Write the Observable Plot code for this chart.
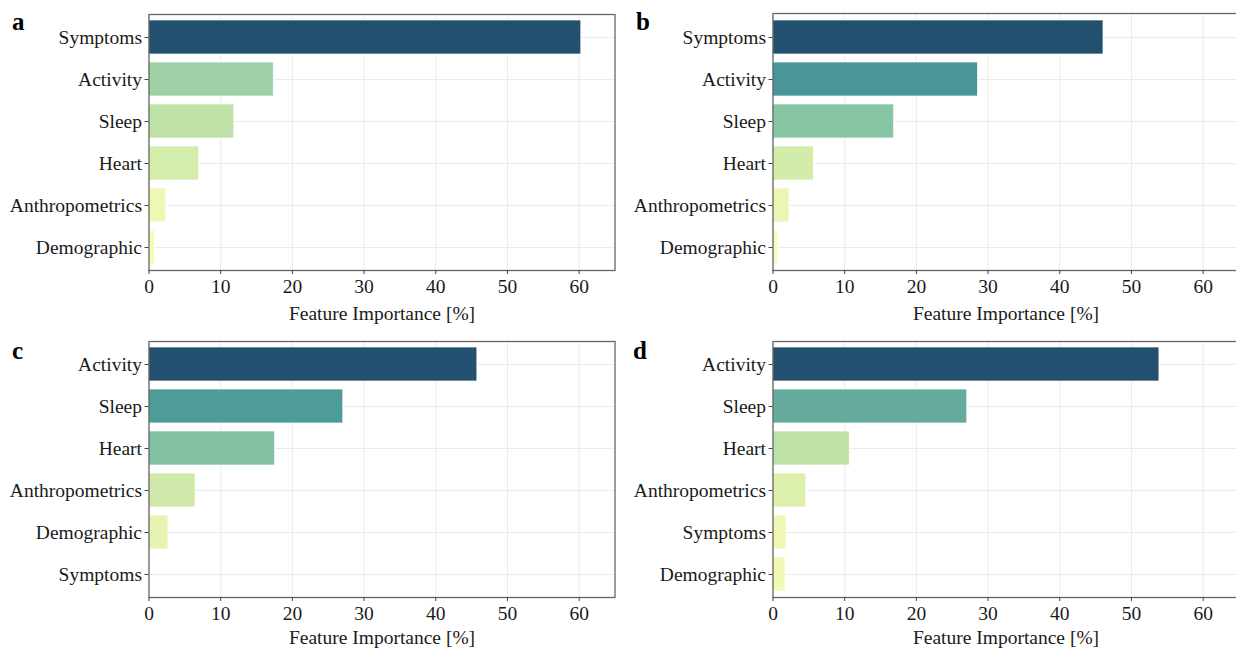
<!DOCTYPE html>
<html><head><meta charset="utf-8">
<script src="https://cdn.jsdelivr.net/npm/d3@7"></script>
<script src="https://cdn.jsdelivr.net/npm/@observablehq/plot@0.6"></script>
<style>
html,body{margin:0;padding:0;background:#fff;}
#root{position:relative;width:1236px;height:649px;overflow:hidden;background:#fff;}
.panel{position:absolute;width:618px;}
.panel svg{max-width:none !important;}
.letter{position:absolute;font-family:"Liberation Serif",serif;font-weight:bold;font-size:25px;line-height:25px;color:#000;}
</style></head><body>
<div id="root"></div>
<script>
// ---- data ----
const panelLetters = ["a", "b", "c", "d"];
const catsA = ["Symptoms", "Activity", "Sleep", "Heart", "Anthropometrics", "Demographic"];
const valsA = [60.3, 17.4, 11.9, 7.0, 2.4, 0.8];
const catsB = ["Symptoms", "Activity", "Sleep", "Heart", "Anthropometrics", "Demographic"];
const valsB = [46.1, 28.6, 16.9, 5.7, 2.3, 0.7];
const catsC = ["Activity", "Sleep", "Heart", "Anthropometrics", "Demographic", "Symptoms"];
const valsC = [45.8, 27.1, 17.6, 6.5, 2.7, 0];
const catsD = ["Activity", "Sleep", "Heart", "Anthropometrics", "Symptoms", "Demographic"];
const valsD = [53.9, 27.1, 10.7, 4.65, 1.9, 1.75];
const xTicks = [0, 10, 20, 30, 40, 50, 60];
const xLabel = "Feature Importance [%]";

// colour ramp (fraction of panel maximum -> colour)
const rampFrac = [0, 0.03, 0.06, 0.12, 0.2, 0.29, 0.37, 0.5, 0.6, 1];
const rampCol = ["#fbfdba", "#f3f9b5", "#e5f4b0", "#d4ecaa", "#bee2a8", "#9dd1a5", "#86c4a3", "#66ad9f", "#4b9a9a", "#23506f"];

function panel(cats, vals, opts) {
  const data = cats.map((c, i) => ({cat: c, v: vals[i]}));
  const max = d3.max(vals);
  return Plot.plot({
    width: 618,
    height: opts.height,
    marginLeft: 148.5,
    marginRight: 3.5,
    marginTop: opts.marginTop,
    marginBottom: opts.marginBottom,
    style: {fontFamily: "'Liberation Serif', serif", fontSize: "19.5px", color: "#1a1a1a", background: "white", overflow: "visible"},
    x: {domain: [0, 65], axis: null},
    y: {domain: cats, paddingInner: 0.2, paddingOuter: 0.1, axis: null},
    color: {type: "linear", domain: rampFrac.map(f => f * max), range: rampCol, interpolate: "rgb"},
    marks: [
      Plot.gridX(xTicks, {stroke: "#ebebeb", strokeOpacity: 1, strokeWidth: 1}),
      Plot.gridY(cats, {stroke: "#ebebeb", strokeOpacity: 1, strokeWidth: 1}),
      Plot.barX(data, {y: "cat", x: "v", fill: "v", stroke: "white", strokeWidth: 0.7}),
      Plot.frame({stroke: "#666", strokeWidth: 1.3}),
      Plot.axisX({ticks: xTicks, tickSize: 4, tickPadding: 5, stroke: "#444", fill: "#1a1a1a", label: null}),
      Plot.axisY({tickSize: 4, tickPadding: 3, stroke: "#444", fill: "#1a1a1a", label: null}),
      Plot.text([xLabel], {frameAnchor: "bottom", dy: opts.titleDy, lineAnchor: "middle", fill: "#1a1a1a"})
    ]
  });
}

const root = document.getElementById("root");
const layout = [
  {cats: catsA, vals: valsA, left: 0, top: 0, height: 325, marginTop: 14, marginBottom: 55, titleDy: 43, lx: 12, ly: 9},
  {cats: catsB, vals: valsB, left: 624, top: 0, height: 325, marginTop: 13, marginBottom: 55, titleDy: 43, lx: 636, ly: 9},
  {cats: catsC, vals: valsC, left: 0, top: 326, height: 323, marginTop: 15, marginBottom: 52, titleDy: 40, lx: 12, ly: 338},
  {cats: catsD, vals: valsD, left: 624, top: 326, height: 323, marginTop: 15, marginBottom: 52, titleDy: 40, lx: 633, ly: 338}
];
layout.forEach((p, i) => {
  const div = document.createElement("div");
  div.className = "panel";
  div.style.left = p.left + "px";
  div.style.top = p.top + "px";
  div.appendChild(panel(p.cats, p.vals, p));
  root.appendChild(div);
  const l = document.createElement("div");
  l.className = "letter";
  l.style.left = p.lx + "px";
  l.style.top = p.ly + "px";
  l.textContent = panelLetters[i];
  root.appendChild(l);
});
</script>
</body></html>
